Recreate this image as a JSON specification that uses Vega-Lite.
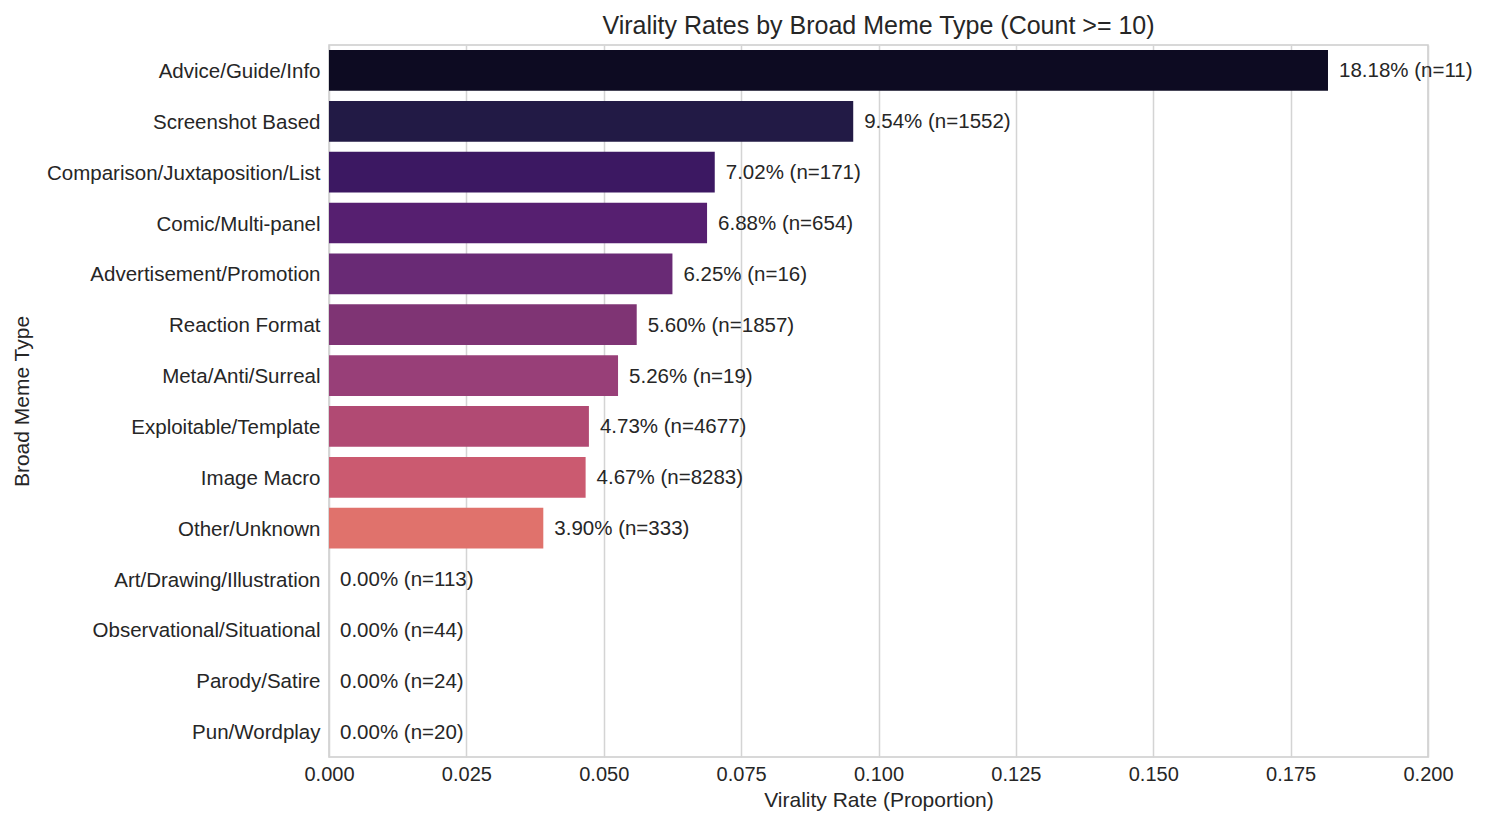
{
  "$schema": "https://vega.github.io/schema/vega-lite/v6.json",
  "width": 1099,
  "height": 712,
  "autosize": "none",
  "padding": {"left": 329, "top": 45, "right": 62, "bottom": 69},
  "background": "white",
  "title": {
    "text": "Virality Rates by Broad Meme Type (Count >= 10)",
    "font": "Liberation Sans",
    "fontSize": 25,
    "fontWeight": "normal",
    "color": "#262626",
    "anchor": "middle",
    "offset": 6
  },
  "data": {
    "values": [
      {"type": "Advice/Guide/Info", "rate": 0.1818, "label": "18.18% (n=11)"},
      {"type": "Screenshot Based", "rate": 0.0954, "label": "9.54% (n=1552)"},
      {"type": "Comparison/Juxtaposition/List", "rate": 0.0702, "label": "7.02% (n=171)"},
      {"type": "Comic/Multi-panel", "rate": 0.0688, "label": "6.88% (n=654)"},
      {"type": "Advertisement/Promotion", "rate": 0.0625, "label": "6.25% (n=16)"},
      {"type": "Reaction Format", "rate": 0.0560, "label": "5.60% (n=1857)"},
      {"type": "Meta/Anti/Surreal", "rate": 0.0526, "label": "5.26% (n=19)"},
      {"type": "Exploitable/Template", "rate": 0.0473, "label": "4.73% (n=4677)"},
      {"type": "Image Macro", "rate": 0.0467, "label": "4.67% (n=8283)"},
      {"type": "Other/Unknown", "rate": 0.0390, "label": "3.90% (n=333)"},
      {"type": "Art/Drawing/Illustration", "rate": 0.0, "label": "0.00% (n=113)"},
      {"type": "Observational/Situational", "rate": 0.0, "label": "0.00% (n=44)"},
      {"type": "Parody/Satire", "rate": 0.0, "label": "0.00% (n=24)"},
      {"type": "Pun/Wordplay", "rate": 0.0, "label": "0.00% (n=20)"}
    ]
  },
  "config": {
    "view": {"stroke": "#cccccc", "strokeWidth": 1.5},
    "font": "Liberation Sans"
  },
  "encoding": {
    "y": {
      "field": "type",
      "type": "nominal",
      "sort": null,
      "scale": {"paddingInner": 0.2, "paddingOuter": 0.1},
      "axis": {
        "title": "Broad Meme Type",
        "titleFont": "Liberation Sans",
        "titleFontSize": 21,
        "titleFontWeight": "normal",
        "titleColor": "#262626",
        "titleX": -307,
        "titleY": 356,
        "titleAngle": -90,
        "titleAlign": "center",
        "titleBaseline": "middle",
        "labelFont": "Liberation Sans",
        "labelFontSize": 20.5,
        "labelColor": "#262626",
        "labelPadding": 9,
        "labelOffset": 1.5,
        "ticks": false,
        "domain": false,
        "grid": false,
        "labelLimit": 400
      }
    },
    "x": {
      "field": "rate",
      "type": "quantitative",
      "scale": {"domain": [0, 0.2], "nice": false},
      "axis": {
        "title": "Virality Rate (Proportion)",
        "titleFont": "Liberation Sans",
        "titleFontSize": 21,
        "titleFontWeight": "normal",
        "titleColor": "#262626",
        "titlePadding": 5,
        "labelFont": "Liberation Sans",
        "labelFontSize": 20,
        "labelColor": "#262626",
        "labelPadding": 7,
        "values": [0, 0.025, 0.05, 0.075, 0.1, 0.125, 0.15, 0.175, 0.2],
        "format": ".3f",
        "ticks": false,
        "domain": false,
        "grid": true,
        "gridColor": "#d4d4d4",
        "gridWidth": 1.5,
        "labelFlush": false
      }
    }
  },
  "layer": [
    {
      "mark": {"type": "bar"},
      "encoding": {
        "color": {
          "field": "type",
          "type": "nominal",
          "sort": null,
          "legend": null,
          "scale": {
            "domain": ["Advice/Guide/Info", "Screenshot Based", "Comparison/Juxtaposition/List", "Comic/Multi-panel", "Advertisement/Promotion", "Reaction Format", "Meta/Anti/Surreal", "Exploitable/Template", "Image Macro", "Other/Unknown", "Art/Drawing/Illustration", "Observational/Situational", "Parody/Satire", "Pun/Wordplay"],
            "range": ["#0d0b22", "#221a45", "#3c1862", "#561f70", "#692a75", "#7f3474", "#983f78", "#b14a73", "#cb5a70", "#e0726c", "#f3906a", "#f9b07f", "#fcd09b", "#fcf0bb"]
          }
        }
      }
    },
    {
      "mark": {"type": "text", "align": "left", "baseline": "middle", "dx": 11, "dy": 1, "fontSize": 20.5, "font": "Liberation Sans", "color": "#262626"},
      "encoding": {"text": {"field": "label"}}
    }
  ]
}
